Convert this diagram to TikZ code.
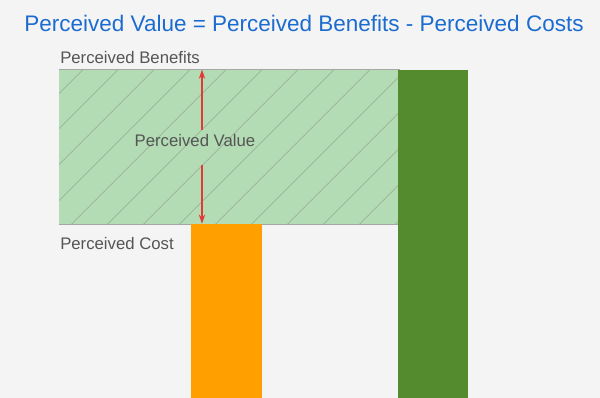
\documentclass[tikz,border=0pt]{standalone}
\usepackage{fontspec}
\setmainfont{Liberation Sans}
\usetikzlibrary{arrows.meta,fit,patterns.meta}
\definecolor{pvbg}{RGB}{244,244,244}
\definecolor{pvblue}{RGB}{28,108,208}
\definecolor{pvtext}{RGB}{85,85,85}
\definecolor{pvmint}{RGB}{179,219,180}
\definecolor{pvhatch}{RGB}{150,170,150}
\definecolor{pvgreen}{RGB}{85,139,47}
\definecolor{pvamber}{RGB}{255,160,0}
\definecolor{pvred}{RGB}{229,57,53}

\begin{document}
\begin{tikzpicture}[x=0.025cm,y=-0.025cm,
      lab/.style={font=\fontsize{11.9}{14}\selectfont,text=pvtext,inner sep=0pt},
      bar/.style={inner sep=0pt,draw=none},
      edge/.style={draw=black!35,line width=1.1pt},
      a/.style={-{Stealth[length=6.5pt,width=4.5pt]},draw=pvred,line width=1pt}]
      \fill[pvbg] (0,0) rectangle (600,398);
      \useasboundingbox (0,0) rectangle (600,398);
      \node[font=\fontsize{16}{19}\selectfont,text=pvblue,inner sep=0pt] (title) at (304,23)
        {Perceived Value = Perceived Benefits - Perceived Costs};
      \node[bar,fit={(59,70) (400,224)},preaction={fill=pvmint},
        pattern={Lines[angle=45,distance=18.5pt,line width=.45pt]},pattern color=pvhatch] (gain) {};
      \draw[edge] (gain.north west) -- (gain.north east);
      \draw[edge] (gain.south west) -- (gain.south east);
      \node[bar,fill=pvgreen,fit={(398,70) (468,398)}] (gainbar) {};
      \node[bar,fill=pvamber,fit={(191,224) (262,398)}] (cost) {};
      \node[lab,anchor=west] (benefit) at (60,57.5) {Perceived Benefits};
      \node[lab,anchor=west] (costlab) at (60,244) {Perceived Cost};
      \node[lab] (value) at (195,141) {Perceived Value};
      \coordinate (vtop) at (202,130);
      \coordinate (vbot) at (202,165);
      \draw[a] (vtop)--(vtop |- gain.north);
      \draw[a] (vbot)--(vbot |- cost.north);
    \end{tikzpicture}
\end{document}
